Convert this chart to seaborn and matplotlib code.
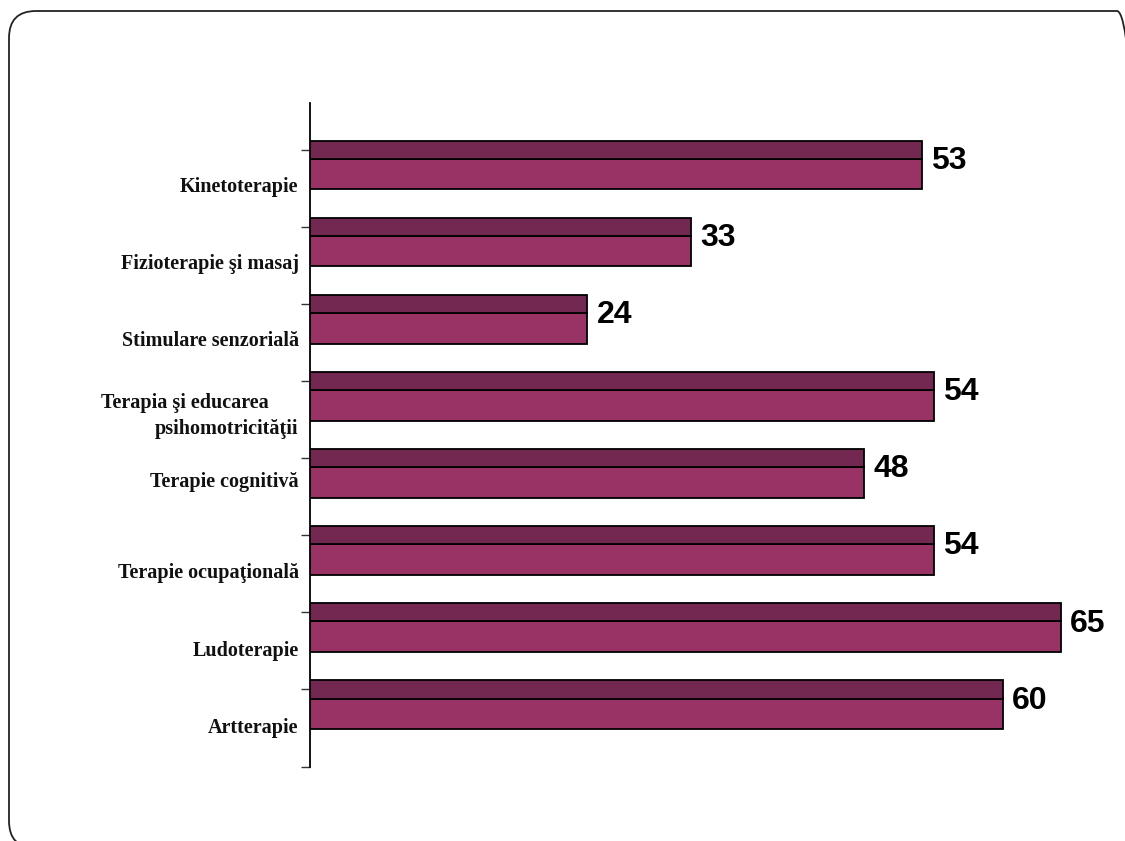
import numpy as np
import pandas as pd
import matplotlib
matplotlib.use("Agg")
import matplotlib.pyplot as plt
from matplotlib.patches import FancyBboxPatch
from matplotlib.font_manager import FontProperties
import seaborn as sns

categories = ["Kinetoterapie", "Fizioterapie şi masaj", "Stimulare senzorială",
              "Terapia şi educarea      \npsihomotricităţii", "Terapie cognitivă",
              "Terapie ocupaţională", "Ludoterapie", "Artterapie"]
values = [53, 33, 24, 54, 48, 54, 65, 60]
value_labels = ["53", "33", "24", "54", "48", "54", "65", "60"]

LIGHT = "#993366"
DARK = "#722850"

sns.set_theme(style="white")
plt.rcParams["font.family"] = ["Liberation Serif", "DejaVu Serif"]

fig = plt.figure(figsize=(11.25, 8.41), dpi=100)

# rounded frame (inches)
frame = FancyBboxPatch((0.09, -0.07), 11.35, 8.37,
                       boxstyle="round,pad=0,rounding_size=0.27",
                       transform=fig.dpi_scale_trans, fill=False,
                       edgecolor="#222222", linewidth=1.3, clip_on=False)
fig.patches.append(frame)

W, H = 1125, 841
ax = fig.add_axes([310 / W, 1 - 767 / H, 808.5 / W, (767 - 103) / H])
df = pd.DataFrame({"cat": categories, "val": values})
n = len(categories)
pos = np.arange(n)

sns.barplot(data=df, x="val", y="cat", orient="h", color=LIGHT, saturation=1,
            width=0.40, edgecolor="black", linewidth=1.3, ax=ax)
ax.barh(pos - 0.315, values, height=0.235, color=DARK, edgecolor="black",
        linewidth=1.3, zorder=3)

ax.set_xlim(0, 70)
ax.set_ylim(7.69, -0.92)
ax.set_xlabel("")
ax.set_ylabel("")
ax.set_xticks([])
ax.set_yticks(np.arange(n + 1) - 0.315)
ax.set_yticklabels([])
ax.tick_params(axis="y", direction="out", length=6.5, width=1, color="#333333", left=True)
for s in ["top", "right", "bottom"]:
    ax.spines[s].set_visible(False)
ax.spines["left"].set_color("black")
ax.spines["left"].set_linewidth(1.3)

cat_font = FontProperties(family="Liberation Serif", weight="bold", size=14.5)
label_dy = [0.17, 0.17, 0.17, 0.14, -0.01, 0.17, 0.18, 0.19]
for i, (c, dy) in enumerate(zip(categories, label_dy)):
    ax.text(-0.014, i + dy, c, transform=ax.get_yaxis_transform(),
            ha="right", va="center", fontproperties=cat_font,
            color="#111111", linespacing=1.45)

val_font = FontProperties(family="Liberation Sans", weight="bold", size=23)
for i, (v, t) in enumerate(zip(values, value_labels)):
    ax.text(v + 0.8, i - 0.17, t, ha="left", va="center",
            fontproperties=val_font, color="black")

fig.savefig("out.png", dpi=100, facecolor="white")
